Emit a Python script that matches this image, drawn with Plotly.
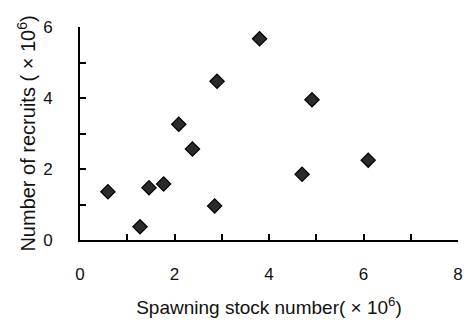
import plotly.graph_objects as go

spawning_stock = [0.59, 1.27, 1.46, 1.77, 2.09, 2.38, 2.90, 2.85, 3.80, 4.70, 4.91, 6.10]
recruits = [1.36, 0.37, 1.47, 1.58, 3.26, 2.56, 4.47, 0.96, 5.67, 1.85, 3.95, 2.25]

x_ticks = [0, 2, 4, 6, 8]
y_ticks = [0, 2, 4, 6]

fig = go.Figure()
fig.add_trace(go.Scatter(
    x=spawning_stock, y=recruits, mode="markers",
    marker=dict(symbol="diamond", size=11, color="#2a2a2a",
                line=dict(color="#000000", width=1.2)),
    showlegend=False,
))

font = dict(family="Liberation Sans, Arial, sans-serif", size=17, color="#111111")

fig.update_layout(
    width=463, height=315,
    margin=dict(l=72, r=8, t=19, b=83),
    paper_bgcolor="white", plot_bgcolor="white",
    font=font,
    xaxis=dict(
        range=[0, 8.0001], tickvals=x_ticks, ticktext=[str(v) for v in x_ticks],
        showgrid=False, zeroline=False, showline=True, linecolor="black", linewidth=1.5,
        ticks="inside", ticklen=6, tickcolor="black", tickwidth=1.5,
        minor=dict(tickvals=[1, 3, 5, 7], ticks="inside", ticklen=6, tickcolor="black", tickwidth=1.5),
        ticklabelstandoff=18, ticklabeloverflow="allow",
        title=dict(text="Spawning stock number( × 10<sup>6</sup>)", standoff=18, font=dict(size=19)),
    ),
    yaxis=dict(
        range=[0, 6.0001], tickvals=y_ticks, ticktext=[str(v) for v in y_ticks],
        showgrid=False, zeroline=False, showline=True, linecolor="black", linewidth=2,
        ticks="inside", ticklen=6, tickcolor="black", tickwidth=1.5,
        minor=dict(tickvals=[1, 3, 5], ticks="inside", ticklen=6, tickcolor="black", tickwidth=1.5),
        ticklabelstandoff=22,
        title=dict(text="Number of recruits ( × 10<sup>6</sup>)", standoff=2, font=dict(size=20)),
    ),
)

fig.write_html("out.html")
